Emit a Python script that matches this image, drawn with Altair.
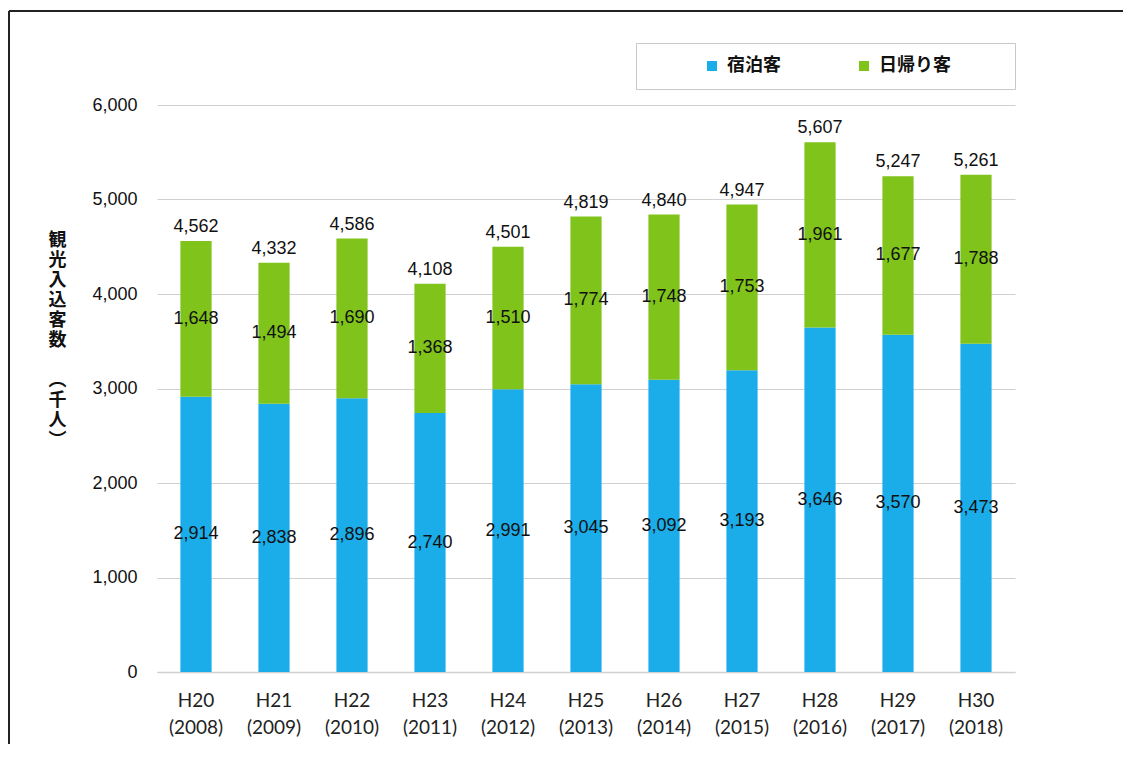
import altair as alt
import pandas as pd

categories = ["H20 (2008)", "H21 (2009)", "H22 (2010)", "H23 (2011)", "H24 (2012)",
              "H25 (2013)", "H26 (2014)", "H27 (2015)", "H28 (2016)", "H29 (2017)", "H30 (2018)"]
stay = [2914, 2838, 2896, 2740, 2991, 3045, 3092, 3193, 3646, 3570, 3473]
day = [1648, 1494, 1690, 1368, 1510, 1774, 1748, 1753, 1961, 1677, 1788]
totals = [4562, 4332, 4586, 4108, 4501, 4819, 4840, 4947, 5607, 5247, 5261]
series = ["宿泊客", "日帰り客"]
colors = ["#1BADE9", "#7FC31B"]
y_title = ["観", "光", "入", "込", "客", "数", "\u200b", "︵", "千", "人", "︶"]

rows = []
for c, s, d in zip(categories, stay, day):
    rows.append({"cat": c, "type": series[0], "value": s, "ord": 0})
    rows.append({"cat": c, "type": series[1], "value": d, "ord": 1})
df = pd.DataFrame(rows)
tot = pd.DataFrame({"cat": categories, "total": totals})

NUM_FONT = "Liberation Sans"
CJK = "Noto Sans CJK JP"

xenc = alt.X("cat:N", sort=categories,
             scale=alt.Scale(paddingInner=0.6, paddingOuter=0.3),
             axis=alt.Axis(title=None, labelAngle=0, labelExpr="split(datum.value, ' ')",
                           labelFont="Lato", labelFontSize=19, labelColor="#222",
                           labelLineHeight=27, labelPadding=19, ticks=False,
                           domainColor="#d0d0d0", domainWidth=1.5, grid=False))

bars = alt.Chart(df).mark_bar().encode(
    x=xenc,
    y=alt.Y("value:Q", stack="zero",
            scale=alt.Scale(domain=[0, 6000], nice=False),
            axis=alt.Axis(values=[0, 1000, 2000, 3000, 4000, 5000, 6000], format=",d",
                          title=y_title, titleAngle=0, titleFont=CJK, titleFontSize=18,
                          titleFontWeight="bold", titleLineHeight=20, titleColor="#111",
                          titleX=-100, titleY=126, titleBaseline="top", titleAlign="center",
                          labelFont=NUM_FONT, labelFontSize=18, labelColor="#111",
                          labelPadding=20, ticks=False, domain=False,
                          gridColor="#d0d0d0", gridWidth=1.2)),
    color=alt.Color("type:N", sort=series,
                    scale=alt.Scale(domain=series, range=colors),
                    legend=alt.Legend(title=None, orient="none", legendX=479, legendY=-62,
                                      direction="horizontal", symbolType="square",
                                      symbolSize=100, symbolStrokeWidth=0,
                                      labelFont=CJK, labelFontSize=18, labelFontWeight="bold",
                                      labelColor="#111", labelOffset=6, columnPadding=21,
                                      padding=14, strokeColor="#c8c8c8", fillColor="white",
                                      symbolOffset=53,
                                      labelExpr="datum.value == '日帰り客' ? datum.label + '\u3000\u3000\u2002\u2005\u200b' : datum.label")),
    order=alt.Order("ord:Q"),
)

seg_text = alt.Chart(df).transform_stack(
    stack="value", groupby=["cat"], sort=[alt.SortField("ord")], as_=["v0", "v1"]
).transform_calculate(mid="(datum.v0 + datum.v1) / 2").mark_text(
    font=NUM_FONT, fontSize=18, color="#111", baseline="middle"
).encode(x=alt.X("cat:N", sort=categories), y=alt.Y("mid:Q"), text=alt.Text("value:Q", format=",d"))

tot_text = alt.Chart(tot).mark_text(
    font=NUM_FONT, fontSize=18, color="#111", baseline="bottom", dy=-5
).encode(x=alt.X("cat:N", sort=categories), y=alt.Y("total:Q"), text=alt.Text("total:Q", format=",d"))

frame_left = alt.Chart(tot).mark_rule(color="#222", strokeWidth=2).encode(
    x=alt.value(-148), y=alt.value(-94), y2=alt.value(720))
frame_top = alt.Chart(tot).mark_rule(color="#222", strokeWidth=2).encode(
    x=alt.value(-148), x2=alt.value(1000), y=alt.value(-94))

chart = alt.layer(bars, seg_text, tot_text, frame_left, frame_top).properties(
    width=858, height=567,
    autosize=alt.AutoSizeParams(type="none"),
    padding={"left": 149, "top": 97, "right": 108, "bottom": 72},
    background="white",
).configure_view(stroke=None)

chart.save("out.html", embed_options={"renderer": "svg", "actions": False})
